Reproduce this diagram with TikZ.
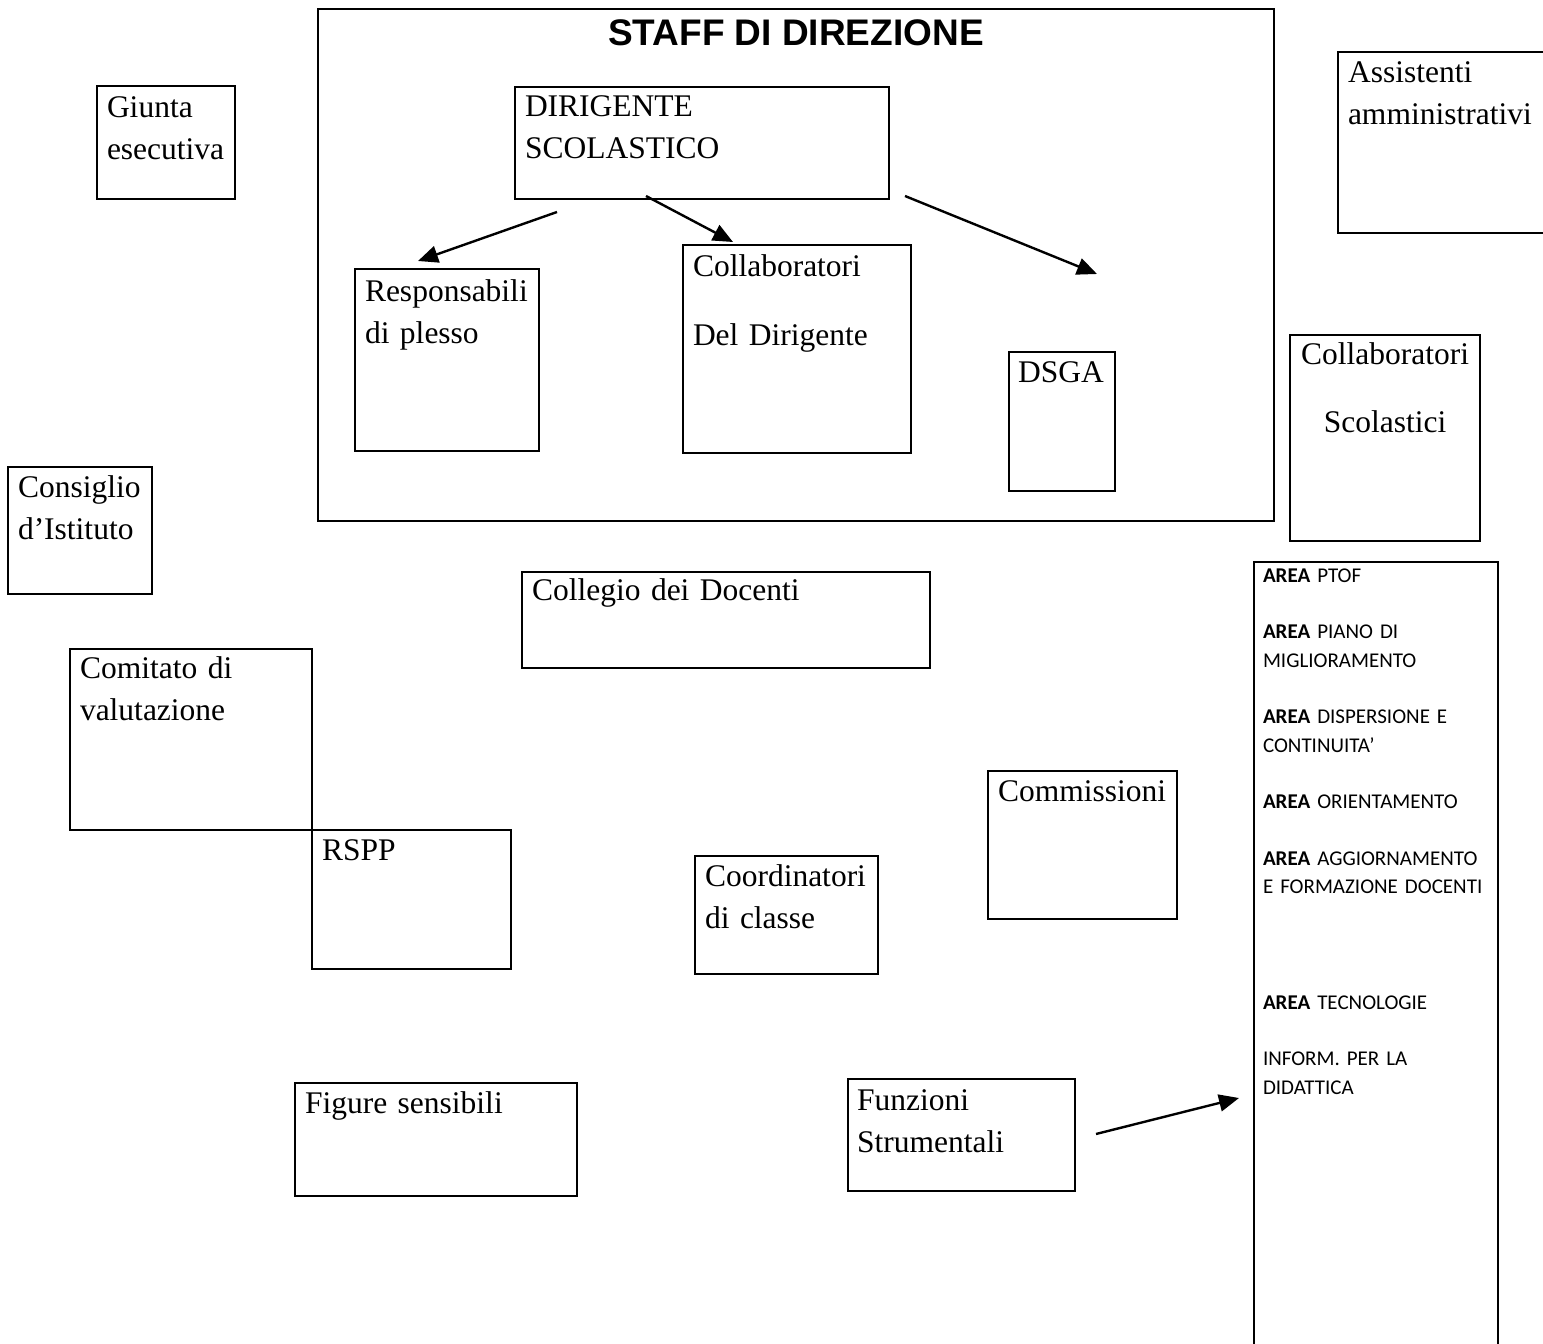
\documentclass[tikz,border=0pt]{standalone}
\usepackage{fontspec}
\setmainfont{Liberation Serif}
\newfontfamily\titlesans{Liberation Sans}
\newfontfamily\calib{Carlito}
\usetikzlibrary{arrows.meta}
\begin{document}
\begin{tikzpicture}[x=1pt,y=-1pt,
  box/.style={draw, line width=2.4pt, anchor=north west, inner sep=0pt, outer sep=0pt},
  lbl/.style={anchor=base west, inner sep=0pt, outer sep=0pt, align=left, text width=300pt,
              font=\fontsize{31.5}{42}\selectfont},
  lblc/.style={anchor=base, inner sep=0pt, outer sep=0pt, align=center, text width=190pt,
              font=\fontsize{31.5}{42}\selectfont},
  arealbl/.style={anchor=base west, inner sep=0pt, outer sep=0pt, align=left, text width=240pt,
              font=\calib\fontsize{21}{28.5}\selectfont},
  conn/.style={line width=2.4pt, -{Triangle[length=20pt,width=17pt]}},
]
\useasboundingbox (0,0) rectangle (1543,1344);
\fill[white] (0,0) rectangle (1543,1344);
\begin{scope}
\clip (0,0) rectangle (1543,1344);
% boxes
\node[box, line width=2.6pt, minimum width=956pt, minimum height=512pt] (staff) at (318,9) {};
\node[box, minimum width=138pt, minimum height=113pt] (giunta) at (97,86) {};
\node[box, minimum width=374pt, minimum height=112pt] (dir) at (515,87) {};
\node[box, minimum width=240pt, minimum height=181pt] (assist) at (1338,52) {};
\node[box, minimum width=184pt, minimum height=182pt] (resp) at (355,269) {};
\node[box, minimum width=228pt, minimum height=208pt] (collD) at (683,245) {};
\node[box, minimum width=106pt, minimum height=139pt] (dsga) at (1009,352) {};
\node[box, minimum width=190pt, minimum height=206pt] (collS) at (1290,335) {};
\node[box, minimum width=144pt, minimum height=127pt] (consiglio) at (8,467) {};
\node[box, minimum width=408pt, minimum height=96pt] (collegio) at (522,572) {};
\node[box, minimum width=242pt, minimum height=181pt] (comitato) at (70,649) {};
\node[box, minimum width=199pt, minimum height=139pt] (rspp) at (312,830) {};
\node[box, minimum width=183pt, minimum height=118pt] (coord) at (695,856) {};
\node[box, minimum width=189pt, minimum height=148pt] (commiss) at (988,771) {};
\node[box, minimum width=282pt, minimum height=113pt] (figure) at (295,1083) {};
\node[box, minimum width=227pt, minimum height=112pt] (funz) at (848,1079) {};
\node[box, minimum width=244pt, minimum height=820pt] (area) at (1254,562) {};
\end{scope}
% title
\node[anchor=base, inner sep=0pt, font=\titlesans\bfseries\fontsize{37}{44}\selectfont] (title) at (796,45) {STAFF DI DIREZIONE};
% labels
\node[lbl] (tgiunta) at (107,117) {Giunta\\esecutiva};
\node[lbl] (tdir) at (525,116) {DIRIGENTE\\SCOLASTICO};
\node[lbl] (tassist) at (1348,82) {Assistenti\\amministrativi};
\node[lbl] (tresp) at (365,301) {Responsabili\\di plesso};
\node[lbl] (tcollD) at (693,276) {Collaboratori\\[27pt]Del Dirigente};
\node[lbl] (tdsga) at (1018,382) {DSGA};
\node[lblc] (tcollS) at (1385,364) {Collaboratori\\[26pt]Scolastici};
\node[lbl] (tconsiglio) at (18,497) {Consiglio\\d’Istituto};
\node[lbl] (tcollegio) at (532,600) {Collegio dei Docenti};
\node[lbl] (tcomitato) at (80,678) {Comitato di\\valutazione};
\node[lbl] (trspp) at (322,860) {RSPP};
\node[lbl] (tcoord) at (705,886) {Coordinatori\\di classe};
\node[lbl] (tcommiss) at (998,801) {Commissioni};
\node[lbl] (tfigure) at (305,1113) {Figure sensibili};
\node[lbl] (tfunz) at (857,1110) {Funzioni\\Strumentali};
\node[arealbl] (tarea) at (1263,582) {{\bfseries AREA} PTOF\\[28pt]
{\bfseries AREA} PIANO DI\\MIGLIORAMENTO\\[28pt]
{\bfseries AREA} DISPERSIONE E\\CONTINUITA’\\[28pt]
{\bfseries AREA} ORIENTAMENTO\\[28pt]
{\bfseries AREA} AGGIORNAMENTO\\E FORMAZIONE DOCENTI\\[87pt]
{\bfseries AREA} TECNOLOGIE\\[28pt]
INFORM. PER LA\\DIDATTICA};
% connectors
\coordinate (a1s) at (557,212);
\coordinate (a1e) at (418,261);
\coordinate (a2s) at (646,196);
\coordinate (a2e) at (733,242);
\coordinate (a3s) at (905,196);
\coordinate (a3e) at (1097,274);
\coordinate (a4s) at (1096,1134);
\coordinate (a4e) at (1239,1098);
\draw[conn] (a1s) -- (a1e);
\draw[conn] (a2s) -- (a2e);
\draw[conn] (a3s) -- (a3e);
\draw[conn] (a4s) -- (a4e);
\end{tikzpicture}
\end{document}
